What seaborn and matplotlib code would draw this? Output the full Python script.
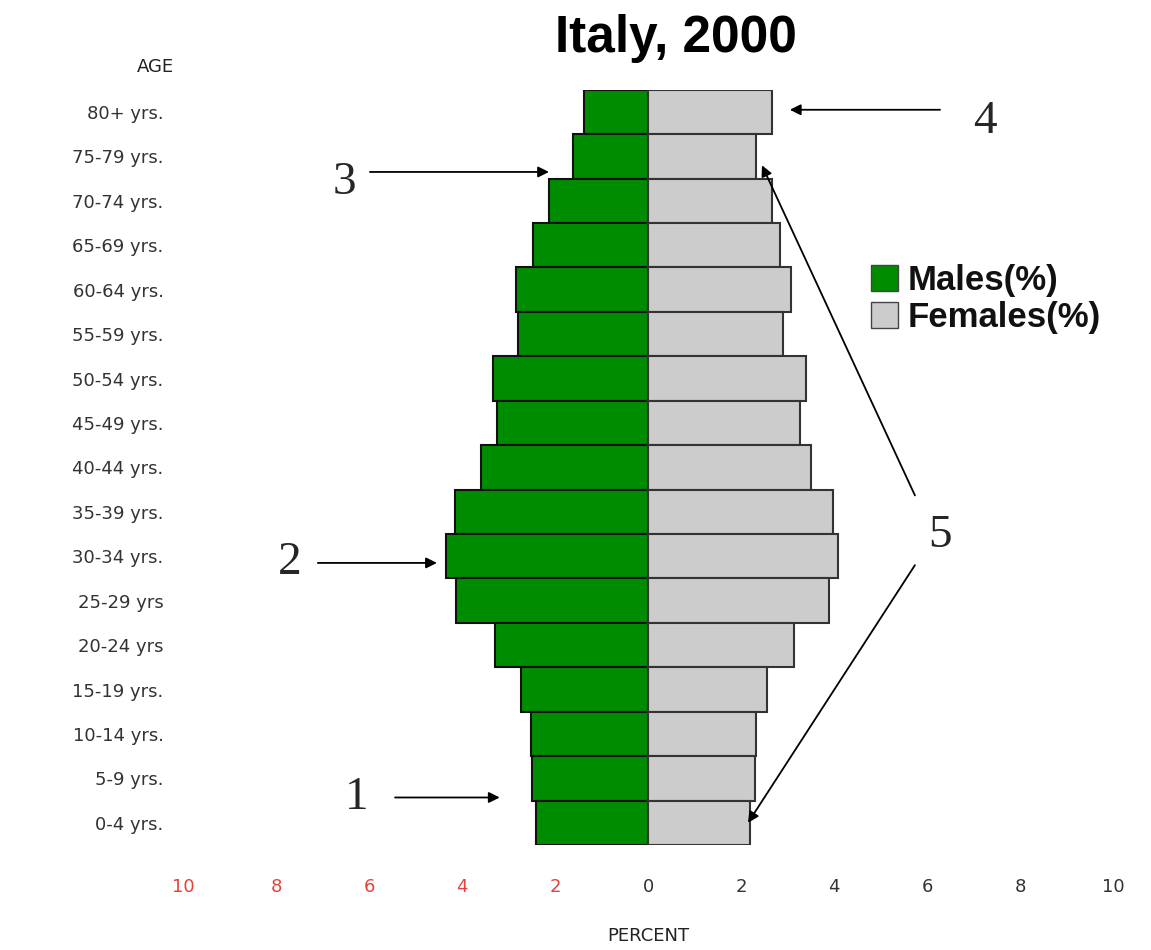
import matplotlib
matplotlib.use("Agg")
import matplotlib.pyplot as plt
from matplotlib.patches import Patch
import pandas as pd
import seaborn as sns

ages = ["80+ yrs.", "75-79 yrs.", "70-74 yrs.", "65-69 yrs.", "60-64 yrs.",
        "55-59 yrs.", "50-54 yrs.", "45-49 yrs.", "40-44 yrs.", "35-39 yrs.",
        "30-34 yrs.", "25-29 yrs", "20-24 yrs", "15-19 yrs.", "10-14 yrs.",
        "5-9 yrs.", "0-4 yrs."]
males = [1.38, 1.61, 2.13, 2.47, 2.84, 2.80, 3.33, 3.25, 3.59, 4.15,
         4.34, 4.13, 3.29, 2.73, 2.52, 2.49, 2.41]
females = [2.67, 2.32, 2.67, 2.84, 3.08, 2.90, 3.40, 3.27, 3.51, 3.98,
           4.09, 3.89, 3.14, 2.56, 2.32, 2.30, 2.19]
xticks = [-10, -8, -6, -4, -2, 0, 2, 4, 6, 8, 10]

green = "#008c00"
grey = "#cccccc"

df = pd.DataFrame({"age": ages, "males": [-m for m in males], "females": females})

sns.set_style("white")
fig = plt.figure(figsize=(11.51, 9.5), dpi=100)
ax = fig.add_axes([0.159, 0.1105, 0.808, 0.795])

sns.barplot(data=df, x="males", y="age", orient="h", color=green, saturation=1,
            width=1.0, edgecolor="#111111", linewidth=1.5, ax=ax)
sns.barplot(data=df, x="females", y="age", orient="h", color=grey, saturation=1,
            width=1.0, edgecolor="#333333", linewidth=1.5, ax=ax)

ax.set_xlim(-10, 10)
ax.set_ylim(len(ages) - 0.5, -0.5)
sns.despine(ax=ax, left=True, bottom=True)
ax.tick_params(length=0)
ax.set_xticks(xticks)
ax.set_xticklabels([str(abs(t)) for t in xticks], fontsize=13)
for lab, t in zip(ax.get_xticklabels(), xticks):
    lab.set_color("#e8403a" if t < 0 else "#333333")
ax.tick_params(axis="x", pad=24)
ax.tick_params(axis="y", pad=14, labelsize=13, labelcolor="#333333")
ax.set_ylabel("")
ax.set_xlabel("PERCENT", fontsize=13, color="#222222", labelpad=22)
ax.text(-0.03, 1.03, "AGE", transform=ax.transAxes, ha="center", va="center",
        fontsize=13, color="#222222")

fig.suptitle("Italy, 2000", x=0.587, y=0.985, fontsize=37, fontweight="bold",
             family="Liberation Sans", va="top", color="black")

handles = [Patch(facecolor=green, edgecolor="#444444", label="Males(%)"),
           Patch(facecolor=grey, edgecolor="#444444", label="Females(%)")]
fig.legend(handles=handles, loc="upper left", bbox_to_anchor=(0.73, 0.755),
           frameon=False, handlelength=0.75, handleheight=0.75, handletextpad=0.3,
           labelspacing=0.12, labelcolor="#111111",
           prop={"family": "Liberation Sans", "weight": "bold", "size": 25})

# numbered arrows
ap = dict(arrowstyle="-|>", color="black", lw=1.3, mutation_scale=16, shrinkA=0, shrinkB=0)
num = dict(fontsize=34, family="Liberation Serif", ha="center", va="center")

ax.annotate("", xy=(females[0] + 0.38, -0.05), xytext=(6.28, -0.05), arrowprops=ap)
ax.text(7.25, 0.22, "4", **num)

ax.annotate("", xy=(-males[2], 1.35), xytext=(-5.98, 1.35), arrowprops=ap)
ax.text(-6.52, 1.6, "3", **num)

ax.annotate("", xy=(-males[10] - 0.2, 10.15), xytext=(-7.1, 10.15), arrowprops=ap)
ax.text(-7.7, 10.15, "2", **num)

ax.annotate("", xy=(-males[15] - 0.7, 15.43), xytext=(-5.44, 15.43), arrowprops=ap)
ax.text(-6.26, 15.43, "1", **num)

ax.annotate("", xy=(females[1] + 0.13, 1.2), xytext=(5.74, 8.63), arrowprops=ap)
ax.annotate("", xy=(females[16] - 0.04, 16.0), xytext=(5.74, 10.2), arrowprops=ap)
ax.text(6.28, 9.53, "5", **num)

fig.savefig("out.png", dpi=100)
